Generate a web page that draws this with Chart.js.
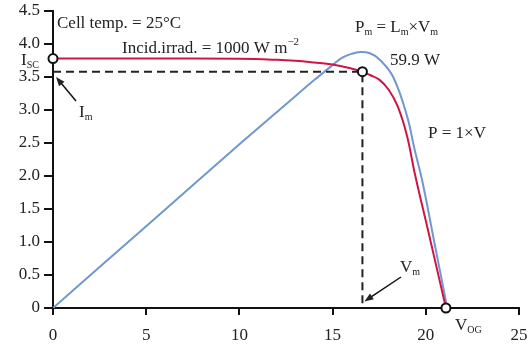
<!DOCTYPE html>
<html>
<head>
<meta charset="utf-8">
<script src="https://cdn.jsdelivr.net/npm/chart.js@4"></script>
<style>
  body { margin: 0; background: #fff; }
  #wrap { width: 529px; height: 345px; }
</style>
</head>
<body>
<div id="wrap"><canvas id="ivChart"></canvas></div>
<script>
/**** data ****/
const ivVolts = [0, 5, 10, 12, 13, 14, 15, 16, 16.6, 17, 17.5, 18, 18.5, 19, 19.4, 20.2, 21.08];
const ivAmps  = [3.78, 3.78, 3.775, 3.76, 3.745, 3.72, 3.69, 3.63, 3.58, 3.53, 3.46, 3.31, 3.05, 2.6, 2.05, 1.08, 0];

const pVolts = [0, 5, 10, 13, 14, 15, 15.5, 16, 16.5, 17, 17.5, 18.25, 19, 19.4, 19.8, 20.4, 21.15];
const pScaled = [0, 1.24, 2.48, 3.21, 3.45, 3.68, 3.79, 3.85, 3.88, 3.86, 3.77, 3.5, 2.9, 2.4, 1.94, 1.08, 0];

const Isc = 3.78, Im = 3.58, Vm = 16.6, Voc = 21.08;

const xTicks = [0, 5, 10, 15, 20, 25];
const yTicks = [0, 0.5, 1.0, 1.5, 2.0, 2.5, 3.0, 3.5, 4.0, 4.5];

const toPts = (xs, ys) => xs.map((x, i) => ({x: x, y: ys[i]}));

const FONT = '"Liberation Serif", "DejaVu Serif", serif';
const INK = '#222';

/**** text + arrows ****/
function rich(ctx, x, y, parts) {
  parts.forEach(p => {
    const t = p[0], kind = p[1] || 'n';
    let size = 17, dy = 0;
    if (kind === 'sub') { size = 10; dy = 3; }
    if (kind === 'sup') { size = 11; dy = -8; }
    ctx.font = size + 'px ' + FONT;
    ctx.fillText(t, x, y + dy);
    x += ctx.measureText(t).width;
  });
}

function arrow(ctx, x1, y1, x2, y2) {
  const a = Math.atan2(y2 - y1, x2 - x1), L = 9, W = 3.5;
  ctx.beginPath();
  ctx.moveTo(x1, y1);
  ctx.lineTo(x2 - Math.cos(a) * L * 0.8, y2 - Math.sin(a) * L * 0.8);
  ctx.stroke();
  ctx.beginPath();
  ctx.moveTo(x2, y2);
  ctx.lineTo(x2 - Math.cos(a) * L - Math.sin(a) * W, y2 - Math.sin(a) * L + Math.cos(a) * W);
  ctx.lineTo(x2 - Math.cos(a) * L + Math.sin(a) * W, y2 - Math.sin(a) * L - Math.cos(a) * W);
  ctx.closePath();
  ctx.fill();
}

const labelsPlugin = {
  id: 'labels',
  afterDraw(chart) {
    const ctx = chart.ctx, xs = chart.scales.x, ys = chart.scales.y;
    ctx.save();
    ctx.fillStyle = INK;
    ctx.strokeStyle = '#111';
    ctx.lineWidth = 1.5;
    ctx.textBaseline = 'alphabetic';
    ctx.textAlign = 'left';

    rich(ctx, 57, 28, [['Cell temp. = 25°C']]);
    rich(ctx, 122, 53, [['Incid.irrad. = 1000 W m'], ['\u22122', 'sup']]);
    rich(ctx, 355, 32, [['P'], ['m', 'sub'], [' = L'], ['m', 'sub'], ['\u00d7V'], ['m', 'sub']]);
    rich(ctx, 390, 65, [['59.9 W']]);
    rich(ctx, 428, 138, [['P = 1\u00d7V']]);
    rich(ctx, 21, 65, [['I'], ['SC', 'sub']]);
    rich(ctx, 79, 117, [['I'], ['m', 'sub']]);
    rich(ctx, 400, 272, [['V'], ['m', 'sub']]);
    rich(ctx, 455, 330, [['V'], ['OG', 'sub']]);

    arrow(ctx, 76, 101, xs.getPixelForValue(0) + 3, ys.getPixelForValue(3.5));
    arrow(ctx, 401, 277, xs.getPixelForValue(Vm) + 2, ys.getPixelForValue(0.1));
    ctx.restore();
  }
};

const config = {
  type: 'scatter',
  data: {
    datasets: [
      {
        // marked points: Isc, (Vm, Im), Voc
        data: [{x: 0, y: Isc}, {x: Vm, y: Im}, {x: Voc, y: 0}],
        showLine: false,
        clip: false,
        pointRadius: 4.5,
        pointBackgroundColor: '#fff',
        pointBorderColor: '#111',
        pointBorderWidth: 2,
      },
      {
        data: [{x: 0, y: Im}, {x: Vm, y: Im}, {x: Vm, y: 0}],
        showLine: true,
        borderColor: '#222',
        borderWidth: 2,
        borderDash: [8, 5],
        pointRadius: 0,
        tension: 0,
      },
      {
        data: toPts(ivVolts, ivAmps),
        showLine: true,
        borderColor: 'rgb(206, 22, 70)',
        borderWidth: 2,
        pointRadius: 0,
        tension: 0.4,
      },
      {
        data: toPts(pVolts, pScaled),
        showLine: true,
        borderColor: 'rgb(112, 152, 205)',
        borderWidth: 2,
        pointRadius: 0,
        tension: 0.4,
      },
    ]
  },
  options: {
    responsive: true,
    maintainAspectRatio: false,
    animation: false,
    layout: { padding: { top: 11, right: 10, left: 0, bottom: 0 } },
    plugins: {
      legend: { display: false },
      tooltip: { enabled: false },
    },
    scales: {
      x: {
        type: 'linear',
        min: 0, max: 25,
        afterBuildTicks: s => { s.ticks = xTicks.map(v => ({value: v})); },
        afterFit: s => { s.height = 37; s.paddingRight = 9; s.paddingLeft = 0; },
        ticks: { color: INK, font: { family: FONT, size: 17 }, padding: 10,
                 callback: v => String(v) },
        grid: { drawOnChartArea: false, drawTicks: true, tickLength: 7, color: '#111', lineWidth: 2 },
        border: { color: '#111', width: 2 },
      },
      y: {
        min: 0, max: 4.5,
        afterBuildTicks: s => { s.ticks = yTicks.map(v => ({value: v})); },
        afterFit: s => { s.width = 53; s.paddingTop = 0; s.paddingBottom = 0; },
        ticks: { color: INK, font: { family: FONT, size: 17 }, padding: 4,
                 callback: v => v === 0 ? '0' : v.toFixed(1) },
        grid: { drawOnChartArea: false, drawTicks: true, tickLength: 9, color: '#111', lineWidth: 2 },
        border: { color: '#111', width: 2 },
      }
    }
  },
  plugins: [labelsPlugin]
};

var ivChart = new Chart(document.getElementById('ivChart'), config);
</script>
</body>
</html>
